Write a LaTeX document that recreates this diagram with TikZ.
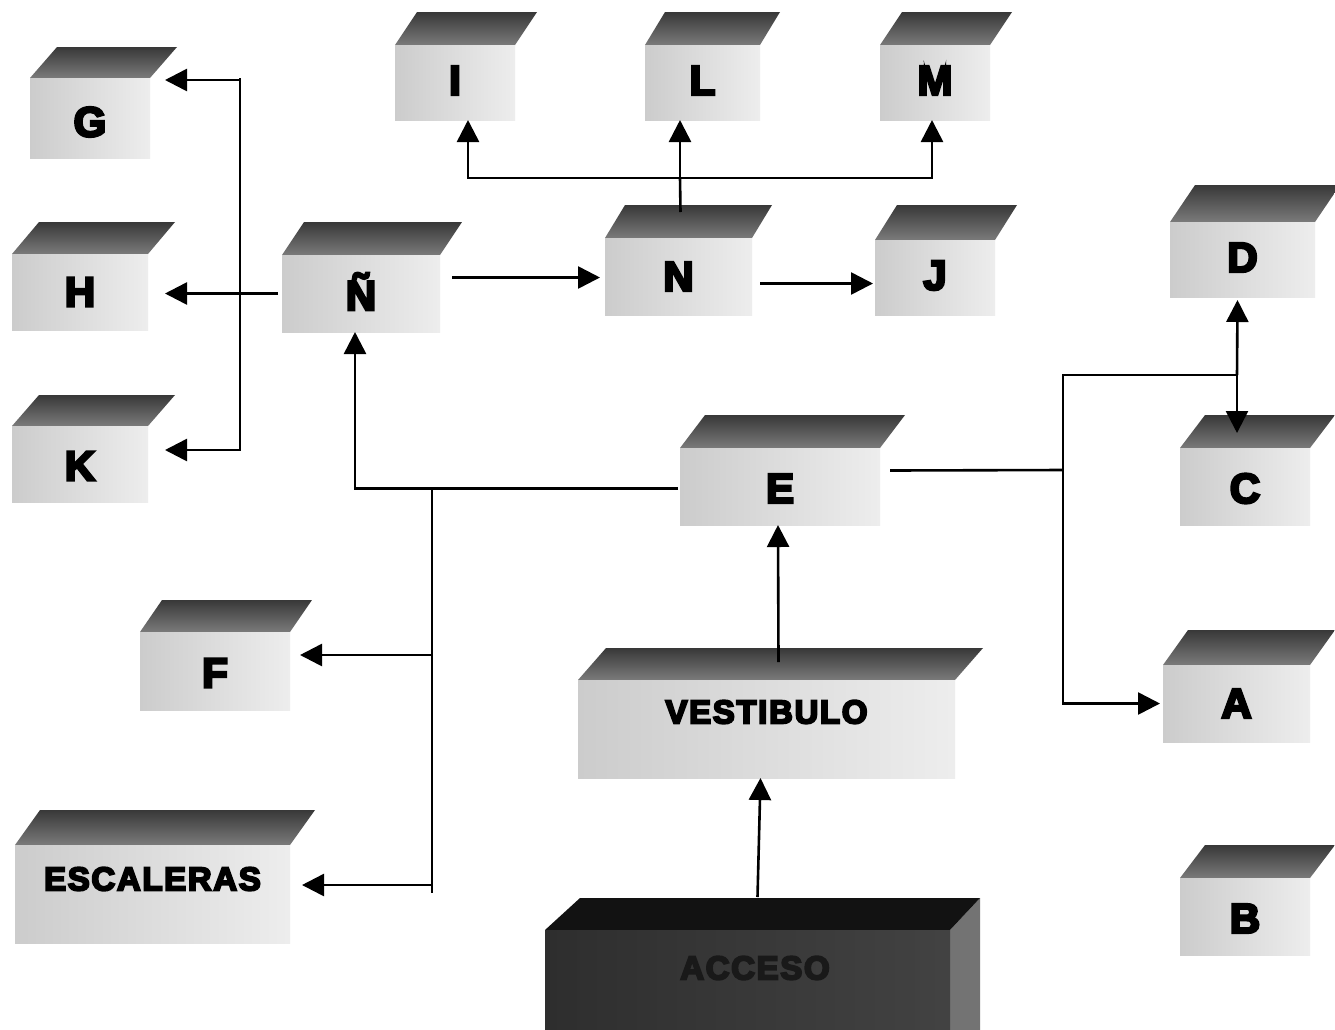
\documentclass[tikz,border=0pt]{standalone}
\usepackage{fontspec}
\newfontfamily\heavy{Liberation Sans Bold}[FakeBold=6,LetterSpace=5]
\newcommand\smalltxt{\fontsize{33}{40}\selectfont}
\usetikzlibrary{arrows.meta}
\tikzset{
  topface/.style={top color=black!78, bottom color=black!52},
  face/.style={left color=black!20, right color=black!7, draw=none, inner sep=0pt, outer sep=0pt},
  lbl/.style={font=\heavy\fontsize{42}{46}\selectfont, text=black, inner sep=0pt},
  conn/.style={line width=2.6pt, draw=black},
  arr/.style={conn, -{Triangle[length=22pt,width=22pt]}},
}
% #1 name, #2 x1, #3 x2, #4 y1, #5 y2, #6 text, #7 text dy, #8 top dx, #9 top depth
\newcommand\cubo[9]{%
  \shade[topface] (#2,#4) -- (#3,#4) -- (#3+#8,#4-#9) -- (#2+#8,#4-#9) -- cycle;
  \node[face, minimum width={(#3-#2)*1pt}, minimum height={(#5-#4)*1pt}] (#1) at ({(#2+#3)/2},{(#4+#5)/2}) {};
  \node[lbl] (#1-t) at ([shift={(0,#7)}]#1.center) {#6};
}
\begin{document}
\begin{tikzpicture}[x=1pt,y=-1pt]
\clip (0,0) rectangle (1335,1029);
\fill[white] (0,0) rectangle (1335,1029);

\cubo{G}{30}{150}{78}{158}{G}{4}{27}{31}
\cubo{H}{12}{148}{254}{330}{H}{0}{27}{32}
\cubo{K}{12}{148}{426}{502}{K}{2}{27}{31}
\cubo{Nn}{282}{440}{255}{332}{Ñ}{-2}{22}{33}
\cubo{N}{605}{752}{238}{315}{N}{0}{20}{33}
\cubo{J}{875}{995}{240}{315}{J}{-2}{22}{35}
\cubo{I}{395}{515}{45}{120}{I}{-2}{22}{33}
\cubo{L}{645}{760}{45}{120}{L}{-2}{20}{33}
\cubo{M}{880}{990}{45}{120}{M}{-2}{22}{33}
\cubo{D}{1170}{1315}{222}{297}{D}{-2}{25}{37}
\cubo{C}{1180}{1310}{448}{525}{C}{2}{25}{33}
\cubo{A}{1163}{1310}{665}{742}{A}{0}{25}{35}
\cubo{B}{1180}{1310}{878}{955}{B}{2}{25}{33}
\cubo{E}{680}{880}{448}{525}{E}{2}{25}{33}
\cubo{F}{140}{290}{632}{710}{F}{2}{22}{32}
\cubo{Esc}{15}{290}{845}{943}{\smalltxt ESCALERAS}{-15}{25}{35}
\cubo{V}{578}{955}{680}{778}{\smalltxt VESTIBULO}{-17}{28}{32}

% ACCESO (dark box)
\fill[black!55] (950,930) -- (980,898) -- (980,1040) -- (950,1040) -- cycle;
\fill[black!93] (545,930) -- (950,930) -- (980,898) -- (580,898) -- cycle;
\node[face, left color=black!82, right color=black!74, minimum width=405pt, minimum height=110pt] (Ac) at (747.5,985) {};
\node[lbl, text=black!90] (Ac-t) at (755,968) {\smalltxt ACCESO};

% junction coordinates
\coordinate (jl) at (240,293);
\coordinate (jt) at (680,178);
\coordinate (jb) at (432,488);
\coordinate (jbe) at (432,893);
\coordinate (jf) at (432,655);
\coordinate (je) at (432,885);
\coordinate (jr) at (1063,470);
\coordinate (jr2) at (1237,375);

% N-tilde to G, H, K
\draw[arr] ([xshift=-4pt]Nn.west) -- ([xshift=17pt]Nn.west -| H.east);
\draw[conn] (jl) -- (240,78);
\draw[arr] (jl) |- ([shift={(15,2)}]G.north east);
\draw[arr] (jl) |- ([shift={(17,-14)}]K.east);

% N-tilde to N, N to J
\draw[arr] ([shift={(12,-16)}]Nn.east) -- ([shift={(-5,1)}]N.west);
\draw[arr] ([shift={(8,7)}]N.east) -- ([shift={(-2,6)}]J.west);

% N to I, L, M
\draw[conn] ([shift={(2,-26)}]N.north) -- (jt);
\draw[arr] (jt) -- (jt |- L.south);
\draw[arr] (jt) -| ([xshift=13pt]I.south);
\draw[arr] (jt) -| ([xshift=-3pt]M.south);

% E to N-tilde, junction down to F and ESCALERAS
\draw[arr] ([shift={(-2,2)}]E.west) -| ([xshift=-6pt]Nn.south);
\draw[conn] (jb) -- (jbe);
\draw[arr] (jf) -- ([shift={(10,-16)}]F.east);
\draw[arr] (je) -- ([shift={(12,-9)}]Esc.east);

% VESTIBULO to E, ACCESO to VESTIBULO
\draw[arr] ([shift={(12,-18)}]V.north) -- ([shift={(-2,0)}]E.south);
\draw[arr] ([shift={(10,-88)}]Ac.center) -- ([shift={(-6,0)}]V.south);

% E to A, C, D
\draw[conn] ([shift={(10,-16)}]E.east) -- (jr);
\draw[conn] (jr) |- (jr2);
\draw[arr] (jr) |- ([xshift=-3pt]A.west);
\draw[arr] (jr2) -- ([shift={(-5,3)}]D.south);
\draw[arr] (jr2) -- ([shift={(-8,-15)}]C.north);
\end{tikzpicture}
\end{document}
